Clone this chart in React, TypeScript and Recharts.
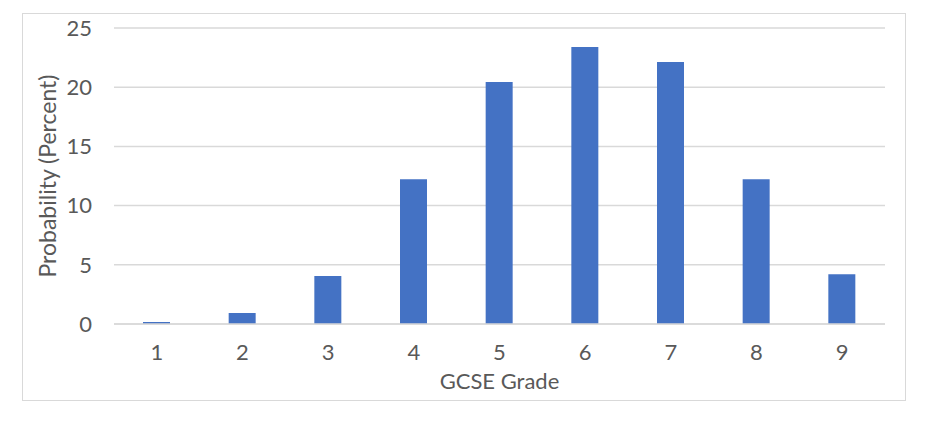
import React from "react";
import { BarChart, Bar, XAxis, YAxis, CartesianGrid, Label } from "recharts";

const grades = ["1", "2", "3", "4", "5", "6", "7", "8", "9"];
const probabilities = [0.17, 0.93, 4.05, 12.22, 20.44, 23.4, 22.13, 12.22, 4.2];
const yTicks = [0, 5, 10, 15, 20, 25];

const data = grades.map((g, i) => ({ grade: g, value: probabilities[i] }));

const FONT = "Lato, 'Open Sans', sans-serif";
const TXT = "#595959";

export default function App() {
  return (
    <div style={{ position: "relative", width: 929, height: 431, margin: "-8px 0 0 -8px", background: "#fff" }}>
      <div
        style={{
          position: "absolute",
          left: 22,
          top: 13,
          width: 884,
          height: 388,
          border: "1.5px solid #d9d9d9",
          boxSizing: "border-box",
        }}
      />
      <div style={{ position: "absolute", left: 0, top: 0 }}>
        <BarChart
          width={929}
          height={431}
          data={data}
          margin={{ top: 28, right: 44, bottom: 0, left: 0 }}
        >
          <CartesianGrid vertical={false} stroke="#d9d9d9" strokeWidth={1.5} />
          <XAxis
            dataKey="grade"
            height={107}
            axisLine={{ stroke: "#d9d9d9", strokeWidth: 1.5 }}
            tickLine={false}
            tickSize={0}
            tickMargin={20}
            tick={{ fill: TXT, fontSize: 22, fontFamily: FONT }}
          >
            <Label
              value="GCSE Grade"
              position="insideTop"
              offset={49}
              style={{ fill: TXT, fontSize: 22, fontFamily: FONT }}
            />
          </XAxis>
          <YAxis
            width={114}
            domain={[0, 25]}
            ticks={yTicks}
            axisLine={false}
            tickLine={false}
            tickSize={0}
            tickMargin={22}
            tick={{ fill: TXT, fontSize: 22, fontFamily: FONT }}
          >
            <Label
              value="Probability (Percent)"
              angle={-90}
              position="insideLeft"
              offset={48}
              style={{ fill: TXT, fontSize: 23, fontFamily: FONT, textAnchor: "middle" }}
            />
          </YAxis>
          <Bar dataKey="value" fill="#4472c4" barSize={27} isAnimationActive={false} />
        </BarChart>
      </div>
    </div>
  );
}
